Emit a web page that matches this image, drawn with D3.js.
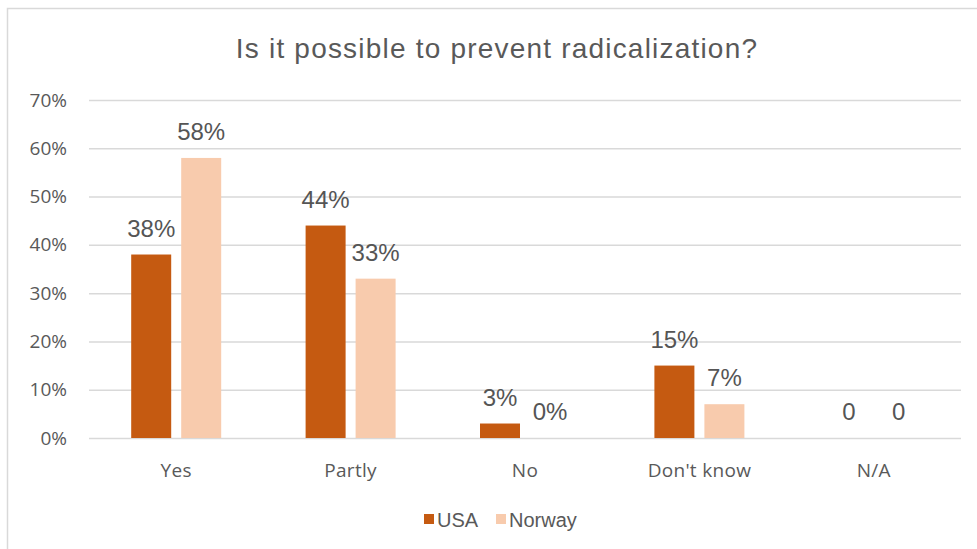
<!DOCTYPE html>
<html>
<head>
<meta charset="utf-8">
<script src="https://cdn.jsdelivr.net/npm/d3@7/dist/d3.min.js"></script>
<style>
  html, body { margin: 0; padding: 0; background: #fff; }
  svg { display: block; }
</style>
</head>
<body>
<svg id="chart" width="977" height="549"></svg>
<script>
// Survey answers, in percent
const categories = ["Yes", "Partly", "No", "Don't know", "N/A"];
const series = ["USA", "Norway"];
const usaValues = [38, 44, 3, 15, 0];
const norwayValues = [58, 33, 0, 7, 0];
// Value labels as printed above each bar (N/A has no percent sign)
const usaLabels = ["38%", "44%", "3%", "15%", "0"];
const norwayLabels = ["58%", "33%", "0%", "7%", "0"];
const yTicks = [0, 10, 20, 30, 40, 50, 60, 70];

const colors = { USA: "#C55A11", Norway: "#F8CBAD" };

const svg = d3.select("#chart");
const W = 977, H = 549;
const plot = { left: 89, right: 961, top: 100, bottom: 438 };

// Outer chart frame (top and left edges visible)
svg.append("path")
  .attr("d", `M7.5,${H} L7.5,8.5 L${W},8.5`)
  .attr("fill", "none")
  .attr("stroke", "#D9D9D9")
  .attr("stroke-width", 1.5);

svg.append("text")
  .attr("x", 497)
  .attr("y", 58)
  .attr("text-anchor", "middle")
  .attr("font-family", "Liberation Sans, Arial, sans-serif")
  .attr("font-size", 28)
  .attr("letter-spacing", 1.2)
  .attr("fill", "#595959")
  .text("Is it possible to prevent radicalization?");

const x0 = d3.scaleBand().domain(categories).range([plot.left, plot.right]).paddingInner(0).paddingOuter(0);
const y = d3.scaleLinear().domain([0, 70]).range([plot.bottom, plot.top]);

const barW = 40, gap = 10;
const x1 = d3.scaleOrdinal().domain(series).range([-(barW + gap / 2), gap / 2]);

// Gridlines and y labels
const yAxis = d3.axisLeft(y).tickValues(yTicks).tickFormat(d => d + "%")
  .tickSize(-(plot.right - plot.left)).tickPadding(22);
const gy = svg.append("g").attr("transform", `translate(${plot.left},0)`).call(yAxis);
gy.select(".domain").remove();
gy.selectAll(".tick line").attr("stroke", "#D9D9D9").attr("stroke-width", 1.5);
gy.selectAll(".tick text")
  .attr("font-family", "Open Sans, Noto Sans, sans-serif")
  .attr("font-size", 19)
  .attr("fill", "#595959");

// Category labels
const xAxis = d3.axisBottom(x0).tickSize(0).tickPadding(26);
const gx = svg.append("g").attr("transform", `translate(0,${plot.bottom})`).call(xAxis);
gx.select(".domain").remove();
gx.selectAll(".tick text")
  .attr("font-family", "Open Sans, Noto Sans, sans-serif")
  .attr("font-size", 19)
  .attr("letter-spacing", 0.3)
  .attr("fill", "#595959");

const rows = categories.map((c, i) => ({
  category: c,
  items: [
    { key: "USA", value: usaValues[i], label: usaLabels[i] },
    { key: "Norway", value: norwayValues[i], label: norwayLabels[i] }
  ]
}));

const groups = svg.append("g").selectAll("g").data(rows).join("g")
  .attr("transform", d => `translate(${x0(d.category) + x0.bandwidth() / 2},0)`);

groups.selectAll("rect").data(d => d.items).join("rect")
  .attr("x", d => x1(d.key))
  .attr("width", barW)
  .attr("y", d => y(d.value))
  .attr("height", d => y(0) - y(d.value))
  .attr("fill", d => colors[d.key]);

groups.selectAll("text.val").data(d => d.items).join("text")
  .attr("class", "val")
  .attr("x", d => x1(d.key) + barW / 2)
  .attr("y", d => y(d.value) - 18)
  .attr("text-anchor", "middle")
  .attr("font-family", "Liberation Sans, Arial, sans-serif")
  .attr("font-size", 24)
  .attr("fill", "#555555")
  .text(d => d.label);

// Legend
const legend = svg.append("g").attr("font-family", "Liberation Sans, Arial, sans-serif");
const legendItems = [{ key: "USA", x: 424 }, { key: "Norway", x: 496 }];
legendItems.forEach(it => {
  legend.append("rect").attr("x", it.x).attr("y", 514).attr("width", 10).attr("height", 10).attr("fill", colors[it.key]);
  legend.append("text").attr("x", it.x + 13).attr("y", 527)
    .attr("font-size", 20).attr("fill", "#595959").text(it.key);
});
</script>
</body>
</html>
